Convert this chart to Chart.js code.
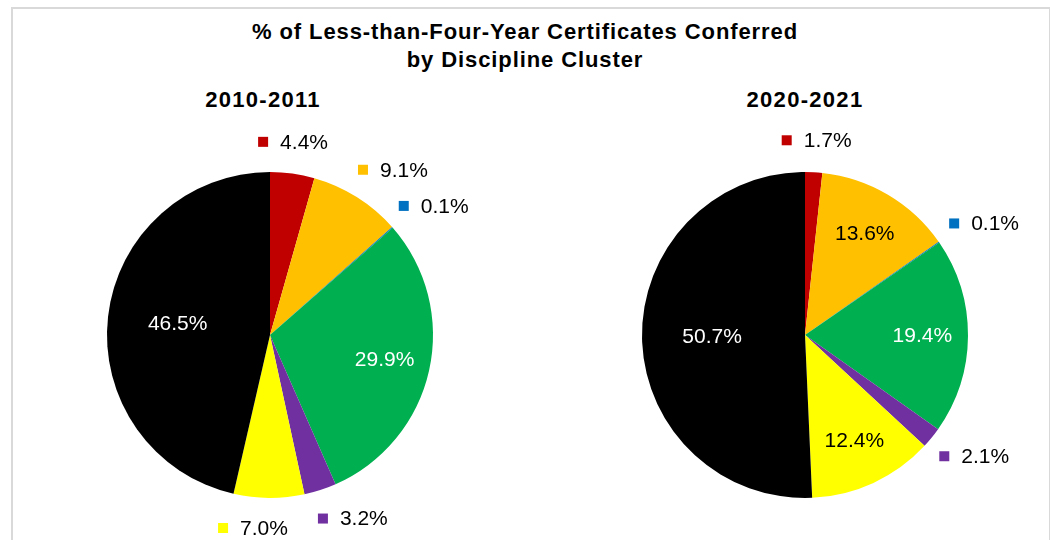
<!DOCTYPE html>
<html>
<head>
<meta charset="utf-8">
<script src="https://cdn.jsdelivr.net/npm/chart.js@4"></script>
<style>
  body { margin: 0; background: #fff; font-family: "Liberation Sans", Arial, sans-serif; }
  #marco { position: absolute; left: 11px; top: 7px; width: 1040px; height: 560px; border: 2px solid #d9d9d9; box-sizing: border-box; }
  .titulo { position: absolute; left: 0; width: 1050px; text-align: center; font-weight: bold; font-size: 22px; letter-spacing: 0.9px; line-height: 28px; color: #000; }
  .sub { position: absolute; width: 300px; text-align: center; font-weight: bold; font-size: 22px; letter-spacing: 1.3px; color: #000; }
  canvas { position: absolute; }
</style>
</head>
<body>
<div id="marco"></div>
<div class="titulo" style="top:18px">% of Less-than-Four-Year Certificates Conferred<br>by Discipline Cluster</div>
<div class="sub" style="left:113px;top:87px">2010-2011</div>
<div class="sub" style="left:655px;top:87px">2020-2021</div>
<canvas id="pie2011" width="500" height="500" style="left:20px;top:85px"></canvas>
<canvas id="pie2021" width="500" height="500" style="left:555px;top:85px"></canvas>
<script>
// datos
const categorias = ['Rojo', 'Naranja', 'Azul', 'Verde', 'Morado', 'Amarillo', 'Negro'];
const valores2011 = [4.4, 9.1, 0.1, 29.9, 3.2, 7.0, 46.5];
const valores2021 = [1.7, 13.6, 0.1, 19.4, 2.1, 12.4, 50.7];

const colores = ['#c00000', '#ffc000', '#0070c0', '#00b050', '#7030a0', '#ffff00', '#000000'];
const coloresTexto = ['#000', '#000', '#000', '#fff', '#000', '#000', '#fff'];

// etiquetas estilo Excel: fuera para las porciones chicas, dentro para las grandes
const etiquetasPlugin = {
    id: 'etiquetas',
    afterDatasetsDraw(chart) {
        const ctx = chart.ctx;
        const meta = chart.getDatasetMeta(0);
        const datos = chart.data.datasets[0].data;
        ctx.save();
        ctx.font = '21px "Liberation Sans", Arial, sans-serif';
        ctx.textBaseline = 'middle';
        const fuera = [];
        meta.data.forEach((arc, i) => {
            const p = arc.getProps(['x', 'y', 'startAngle', 'endAngle', 'outerRadius'], true);
            const medio = (p.startAngle + p.endAngle) / 2;
            const texto = datos[i].toFixed(1) + '%';
            const dx = Math.cos(medio), dy = Math.sin(medio);
            if (datos[i] < 10) {
                const ancho = 10 + 12 + ctx.measureText(texto).width;
                const d = p.outerRadius + 20;
                fuera.push({
                    i, texto, ancho,
                    cx: p.x + dx * d + dx * ancho / 2,
                    cy: p.y + dy * d + dy * 11
                });
            } else {
                const f = datos[i] > 40 ? 0.57 : 0.72;
                ctx.fillStyle = coloresTexto[i];
                ctx.textAlign = 'center';
                ctx.fillText(texto, p.x + dx * p.outerRadius * f, p.y + dy * p.outerRadius * f);
            }
        });
        // separar etiquetas que se enciman
        for (let a = 0; a < fuera.length; a++) {
            for (let b = a + 1; b < fuera.length; b++) {
                const A = fuera[a], B = fuera[b];
                const solapeX = (A.ancho + B.ancho) / 2 + 30 - Math.abs(B.cx - A.cx);
                const solapeY = 34 - Math.abs(B.cy - A.cy);
                if (solapeX > 0 && solapeY > 0) {
                    const s = B.cx >= A.cx ? 1 : -1;
                    A.cx -= s * solapeX / 2;
                    B.cx += s * solapeX / 2;
                }
            }
        }
        fuera.forEach(e => {
            const x0 = e.cx - e.ancho / 2;
            ctx.fillStyle = colores[e.i];
            ctx.fillRect(x0, e.cy - 6, 10, 10);
            ctx.fillStyle = '#000';
            ctx.textAlign = 'left';
            ctx.fillText(e.texto, x0 + 22, e.cy);
        });
        ctx.restore();
    }
};

const crearPie = (id, valores) => {
    new Chart(document.getElementById(id), {
        type: 'pie',
        data: {
            labels: categorias,
            datasets: [{
                data: valores,
                backgroundColor: colores,
                borderWidth: 0
            }]
        },
        options: {
            responsive: false,
            animation: false,
            layout: { padding: 87 },
            plugins: {
                legend: { display: false },
                tooltip: { enabled: false }
            }
        },
        plugins: [etiquetasPlugin]
    });
};

crearPie('pie2011', valores2011);
crearPie('pie2021', valores2021);
</script>
</body>
</html>
